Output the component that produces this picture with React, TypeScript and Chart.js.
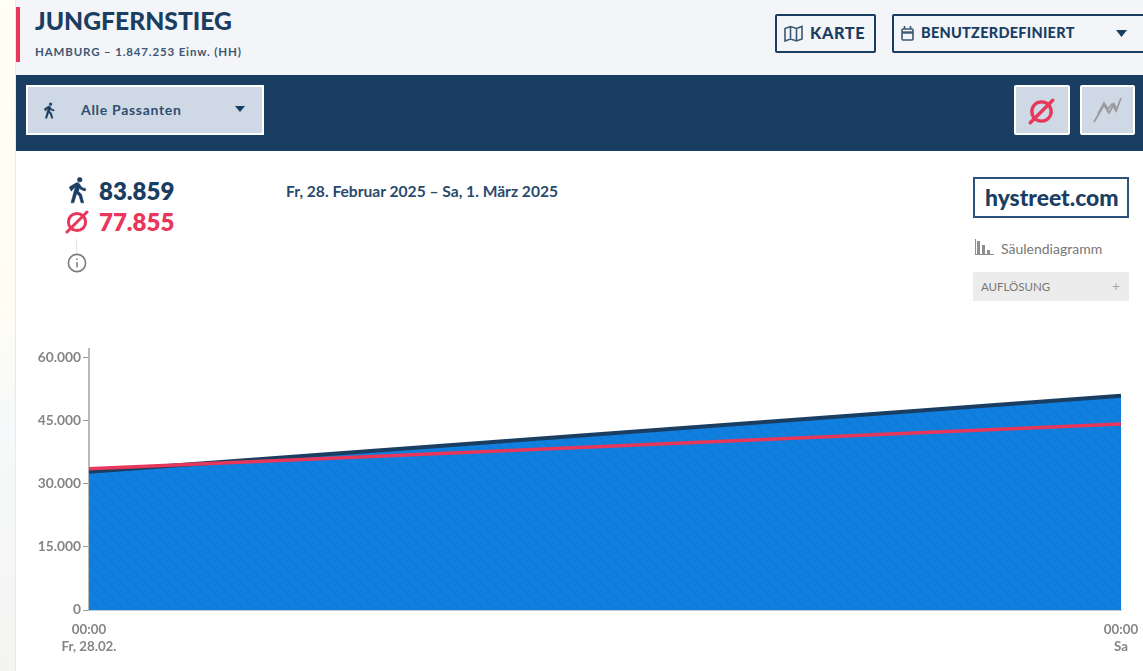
import React, { useEffect, useRef } from "react";
import { Chart, registerables } from "chart.js";

Chart.register(...registerables);

const categories = ["Fr, 28.02.", "Sa"];
const timeLabels = ["00:00", "00:00"];
const passanten = [32909, 50950];
const durchschnitt = [33600, 44255];
const yTicks = [0, 15000, 30000, 45000, 60000];
const yMax = 62100;

const NAVY = "#1a3e62";
const RED = "#e8375a";
const GREY = "#777777";
const TICK_GREY = "#858585";

const font = "Lato, sans-serif";

function stripes(): CanvasPattern | string {
  const c = document.createElement("canvas");
  c.width = 12;
  c.height = 12;
  const g = c.getContext("2d");
  if (!g) return "#0f7ddb";
  g.fillStyle = "#0f7fe0";
  g.fillRect(0, 0, 12, 12);
  g.strokeStyle = "#1378d2";
  g.lineWidth = 1.4;
  for (const o of [-12, 0, 12]) {
    g.beginPath();
    g.moveTo(o, 0);
    g.lineTo(o + 12, 12);
    g.stroke();
  }
  return g.createPattern(c, "repeat") || "#0f7ddb";
}

const box = (x: number, y: number, w: number, h: number, extra: React.CSSProperties = {}): React.CSSProperties => ({
  position: "absolute",
  left: x,
  top: y,
  width: w,
  height: h,
  boxSizing: "border-box",
  ...extra,
});

const label = (x: number, y: number, size: number, weight: number, color: string, extra: React.CSSProperties = {}): React.CSSProperties => ({
  position: "absolute",
  left: x,
  top: y,
  fontSize: size,
  fontWeight: weight,
  color,
  lineHeight: 1,
  whiteSpace: "nowrap",
  ...extra,
});

const Walker = ({ x, y, s, c }: { x: number; y: number; s: number; c: string }) => (
  <svg style={{ position: "absolute", left: x, top: y }} width={s} height={s} viewBox="0 0 24 24">
    <path
      fill={c}
      stroke={c}
      strokeWidth={0.5}
      strokeLinejoin="round"
      d="M13.500 5.200a2 2 0 1 0 0-4 2 2 0 0 0 0 4zM9.800 8.900 6 23h2.400l2.500-8 2.100 2.200 1.600 5.800h2.300l-1.900-7.300-2.500-2.500.6-3c1.300 1.500 3.300 2.500 5.400 2.500v-2c-1.900 0-3.500-1-4.300-2.400l-1-1.600c-.4-.6-1-1-1.700-1-.3 0-.5.100-.8.100L4.500 9.500 6.200 13l3.600-4.100z"
    />
  </svg>
);

const NoAvg = ({ x, y, s, c, w }: { x: number; y: number; s: number; c: string; w: number }) => (
  <svg style={{ position: "absolute", left: x, top: y }} width={s} height={s} viewBox="0 0 24 24" fill="none" stroke={c} strokeWidth={w}>
    <circle cx="12" cy="12" r="8.600" />
    <path d="M2 22 22 2" strokeLinecap="round" />
  </svg>
);

export default function App() {
  const ref = useRef<HTMLCanvasElement>(null);

  useEffect(() => {
    if (!ref.current) return;
    const chart = new Chart(ref.current, {
      type: "line",
      data: {
        labels: categories,
        datasets: [
          {
            label: "Durchschnitt",
            data: durchschnitt,
            borderColor: RED,
            borderWidth: 3.5,
            pointRadius: 0,
            fill: false,
            tension: 0,
          },
          {
            label: "Passanten",
            data: passanten,
            borderColor: NAVY,
            borderWidth: 4,
            backgroundColor: stripes() as any,
            pointRadius: 0,
            fill: "origin",
            tension: 0,
          },
        ],
      },
      options: {
        animation: false,
        responsive: false,
        devicePixelRatio: 1,
        layout: { padding: { top: 19, right: 22, left: 0, bottom: 0 } },
        plugins: { legend: { display: false }, tooltip: { enabled: false } },
        scales: {
          x: {
            type: "category",
            offset: false,
            afterFit: (s: any) => {
              s.height = 61;
              s.paddingLeft = 0;
              s.paddingRight = 0;
            },
            grid: { display: false, drawTicks: false },
            border: { color: "#c3ced9", width: 2 },
            ticks: {
              autoSkip: false,
              maxRotation: 0,
              padding: 11,
              color: TICK_GREY,
              font: { family: font, size: 13.3, weight: 700, lineHeight: 1.3 },
              callback: (_v: any, i: number) => [timeLabels[i], categories[i]],
            },
          },
          y: {
            min: 0,
            max: yMax,
            afterBuildTicks: (s: any) => {
              s.ticks = yTicks.map((value) => ({ value }));
            },
            afterFit: (s: any) => {
              s.width = 89;
              s.paddingTop = 0;
              s.paddingBottom = 0;
            },
            grid: { drawOnChartArea: false, drawTicks: true, tickLength: 6, color: "#9a9a9a", lineWidth: 1 },
            border: { color: "#b9b9b9", width: 2 },
            ticks: {
              padding: 2,
              color: TICK_GREY,
              font: { family: font, size: 13.8, weight: 700 },
              callback: (v: any) => String(v).replace(/\B(?=(\d{3})+$)/g, "."),
            },
          },
        },
      },
    } as any);
    return () => chart.destroy();
  }, []);

  return (
    <div style={{ position: "fixed", left: 0, top: 0, width: 1143, height: 671, overflow: "hidden", background: "#ffffff", fontFamily: font }}>
      {/* page background strip */}
      <div style={box(0, 0, 15, 671, { background: "linear-gradient(#fffff6 0, #fffdf3 300px, #f7f9fa 420px, #f4f4f2 671px)" })} />
      <div style={box(15, 0, 1, 671, { background: "#e6e9f0" })} />
      {/* header */}
      <div style={box(16, 0, 1127, 75, { background: "#f3f5f9" })} />
      <div style={box(16, 7, 4, 55, { background: RED })} />
      <div style={label(35, 9, 24.7, 900, NAVY)}>JUNGFERNSTIEG</div>
      <div style={label(35, 46, 11.500, 700, "#3d5872", { letterSpacing: 0.85 })}>HAMBURG – 1.847.253 Einw. (HH)</div>

      <div style={box(775, 14, 101, 39, { border: `2px solid ${NAVY}`, borderRadius: 2 })} />
      <svg style={{ position: "absolute", left: 784, top: 25 }} width={19} height={17} viewBox="0 0 19 17" fill="none" stroke="#3d5872" strokeWidth="1.600">
        <path d="M1 3.500 6.500 1.500 12.500 3.500 18 1.500V14L12.500 16 6.500 14 1 16zM6.500 1.500V14M12.500 3.500V16" />
      </svg>
      <div style={label(810, 25, 16.3, 900, NAVY, { letterSpacing: 0.6 })}>KARTE</div>

      <div style={box(892, 14, 260, 39, { border: `2px solid ${NAVY}`, borderRadius: 2 })} />
      <svg style={{ position: "absolute", left: 901, top: 26 }} width={13} height={15} viewBox="0 0 13 15" fill="none" stroke="#3d5872" strokeWidth="1.600">
        <rect x="1" y="3" width="11" height="11" rx="1" />
        <path d="M1 6.500H12" strokeWidth="2.400" />
        <path d="M3.500 0V3M9.500 0V3" />
      </svg>
      <div style={label(921, 26, 14.5, 900, NAVY, { letterSpacing: 0.27 })}>BENUTZERDEFINIERT</div>
      <svg style={{ position: "absolute", left: 1116, top: 30 }} width={11} height={7} viewBox="0 0 11 7"><path fill={NAVY} d="M0 0H11L5.500 7z" /></svg>

      {/* navy bar */}
      <div style={box(16, 75, 1127, 76, { background: "#1a3e62" })} />
      <div style={box(26, 85, 238, 50, { background: "#cfd9e5", border: "2px solid #ffffff" })} />
      <Walker x={41} y={102} s={17} c={NAVY} />
      <div style={label(81, 103, 14, 700, "#2e4e70", { letterSpacing: 0.7 })}>Alle Passanten</div>
      <svg style={{ position: "absolute", left: 235, top: 106 }} width={10} height={6} viewBox="0 0 10 6"><path fill={NAVY} d="M0 0H10L5 6z" /></svg>
      <div style={box(1014, 85, 56, 50, { background: "#cfd9e5", border: "2px solid #ffffff", borderRadius: 2 })} />
      <NoAvg x={1028} y={98} s={27} c={RED} w={3} />
      <div style={box(1080, 85, 55, 50, { background: "#cfd9e5", border: "2px solid #ffffff", borderRadius: 2 })} />
      <svg style={{ position: "absolute", left: 1093, top: 95 }} width={29} height={29} viewBox="0 0 29 29" fill="none" stroke="#9b9b9f" strokeWidth="1.800">
        <path d="M1 27 11 10 16 18 21 9 24 15" />
        <path d="M5 19 11 8 15 14 19 9 23 16 28 3" />
      </svg>

      {/* KPI block */}
      <Walker x={64} y={176} s={28} c={NAVY} />
      <div style={label(99, 179, 24, 800, NAVY)}>83.859</div>
      <NoAvg x={65} y={210} s={24} c={RED} w={3} />
      <div style={label(99, 210, 24, 800, RED)}>77.855</div>
      <div style={box(76, 239, 1, 14, { background: "#e3e3e3" })} />
      <svg style={{ position: "absolute", left: 67, top: 253 }} width={20} height={20} viewBox="0 0 20 20">
        <circle cx="10" cy="10" r="8.600" fill="#fff" stroke="#7b7b7b" strokeWidth="1.600" />
        <path d="M10 9v5.500M10 5.500v1.500" stroke="#7b7b7b" strokeWidth="1.500" />
      </svg>
      <div style={label(286, 184, 15.6, 700, "#2a4a6c")}>Fr, 28. Februar 2025 – Sa, 1. März 2025</div>

      {/* logo & side controls */}
      <div style={box(973, 177, 156, 41, { border: `2px solid #2b5278`, background: "#fff" })} />
      <div style={label(985, 186, 22.9, 900, NAVY)}>hystreet.com</div>
      <svg style={{ position: "absolute", left: 974, top: 239 }} width={20} height={16} viewBox="0 0 20 16">
        <path fill="#8f8f8f" d="M1 0h1v15h18v1H1zM3 2h3v13H3zM8 6h3v9H8zM13 11h3v4h-3z" />
      </svg>
      <div style={label(1001, 242, 14, 400, GREY)}>Säulendiagramm</div>
      <div style={box(973, 272, 156, 29, { background: "#ececec" })} />
      <div style={label(981, 281, 11.500, 400, GREY)}>AUFLÖSUNG</div>
      <div style={label(1112, 279, 14, 400, "#a8a8a8")}>+</div>

      {/* chart */}
      <canvas ref={ref} width={1143} height={341} style={{ position: "absolute", left: 0, top: 330, width: 1143, height: 341 }} />
    </div>
  );
}
